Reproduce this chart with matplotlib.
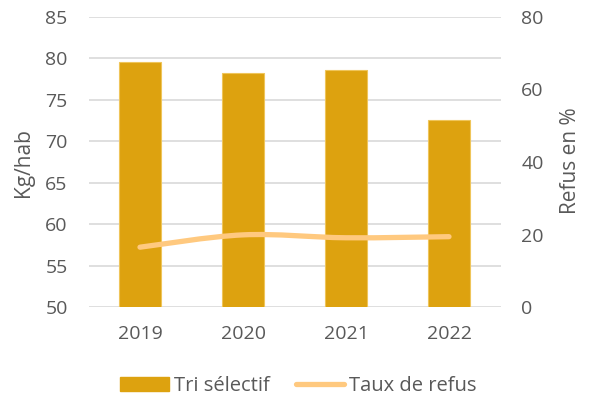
import matplotlib
matplotlib.use("Agg")
import matplotlib.pyplot as plt
import numpy as np
from matplotlib.path import Path
from matplotlib.patches import PathPatch, Patch
from matplotlib.lines import Line2D

years = ["2019", "2020", "2021", "2022"]
tri_selectif = [79.6, 78.3, 78.6, 72.6]
taux_refus = [16.5, 19.9, 19.1, 19.4]

plt.rcParams['font.family'] = ['Open Sans', 'DejaVu Sans']
txt = '#595959'
bar_color = '#DDA20F'
line_color = '#FFC97F'

W, H = 589, 403
fig = plt.figure(figsize=(W / 100, H / 100), dpi=100)
ax = fig.add_axes([88.5 / W, 1 - 307 / H, 412 / W, 290 / H])
ax2 = ax.twinx()

x = np.arange(len(years))
ax.bar(x, tri_selectif, width=0.4, color=bar_color, edgecolor='#EFC55A', linewidth=0.8, zorder=2)
ax.set_ylim(50, 85)
ax.set_yticks(range(50, 86, 5))
ax.set_xlim(-0.5, len(years) - 0.5)
ax.set_xticks(x)
ax.set_xticklabels(years)
ax.yaxis.grid(True, color='#D9D9D9', linewidth=1.2, zorder=0)
ax.set_axisbelow(True)
for s in ax.spines.values():
    s.set_visible(False)
for s in ax2.spines.values():
    s.set_visible(False)
ax.tick_params(axis='y', length=0, colors=txt, labelsize=14, pad=15)
ax.tick_params(axis='x', length=0, colors=txt, labelsize=14, pad=13)
ax2.tick_params(length=0, colors=txt, labelsize=14, pad=15)

ax2.set_ylim(0, 80)
ax2.set_yticks([0, 20, 40, 60, 80])

fig.text(23 / W, 1 - 162.5 / H, "Kg/hab", rotation=90, ha='center', va='center',
         color=txt, fontsize=15)
fig.text(570 / W, 1 - 160.5 / H, "Refus en %", rotation=90, ha='center', va='center',
         color=txt, fontsize=15)

# smoothed line (Catmull-Rom style, like Excel smoothing)
xs = x.astype(float)
ys = np.array(taux_refus, dtype=float)
verts = [(xs[0], ys[0])]
codes = [Path.MOVETO]
t = 1.0 / 6.0
n = len(xs)
for i in range(n - 1):
    p0 = np.array([xs[max(i - 1, 0)], ys[max(i - 1, 0)]])
    p1 = np.array([xs[i], ys[i]])
    p2 = np.array([xs[i + 1], ys[i + 1]])
    p3 = np.array([xs[min(i + 2, n - 1)], ys[min(i + 2, n - 1)]])
    c1 = p1 + (p2 - p0) * t
    c2 = p2 - (p3 - p1) * t
    verts += [tuple(c1), tuple(c2), tuple(p2)]
    codes += [Path.CURVE4] * 3
patch = PathPatch(Path(verts, codes), facecolor='none', edgecolor=line_color,
                  linewidth=3.8, capstyle='round', joinstyle='round', zorder=3)
ax2.add_patch(patch)

handles = [Patch(facecolor=bar_color, edgecolor=bar_color),
           Line2D([0], [0], color=line_color, linewidth=3.8, solid_capstyle='round')]
fig.legend(handles, ["Tri sélectif", "Taux de refus"], loc='center',
           bbox_to_anchor=(298.5 / W, 1 - 386 / H), ncol=2, frameon=False, fontsize=14.5,
           labelcolor=txt, handlelength=2.4, handleheight=0.65, handletextpad=0.25,
           columnspacing=1.3, borderpad=0, borderaxespad=0)

fig.savefig("out.png", dpi=100)
